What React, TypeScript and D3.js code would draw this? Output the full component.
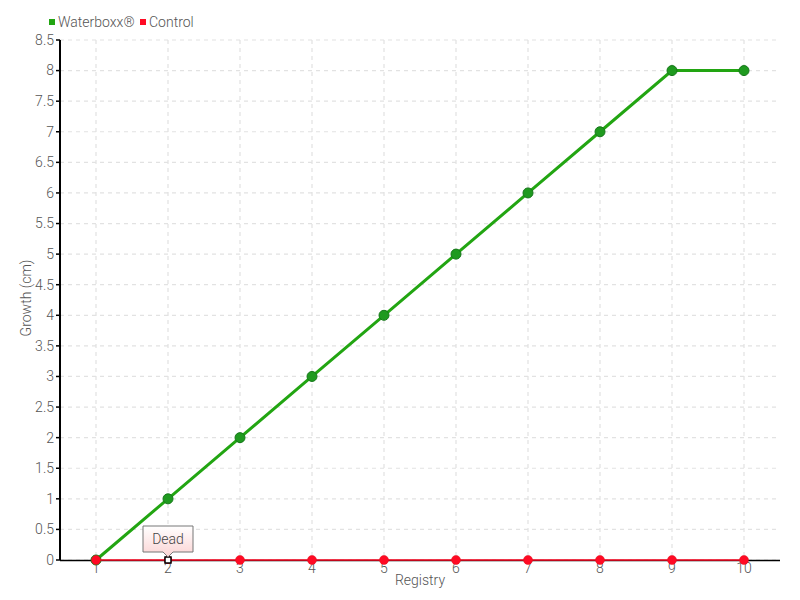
import React from "react";
import * as d3 from "d3";

const categories = ["1", "2", "3", "4", "5", "6", "7", "8", "9", "10"];
const waterboxx = [0, 1, 2, 3, 4, 5, 6, 7, 8, 8];
const control = [0, 0, 0, 0, 0, 0, 0, 0, 0, 0];
const yTicks = [0, 0.5, 1, 1.5, 2, 2.5, 3, 3.5, 4, 4.5, 5, 5.5, 6, 6.5, 7, 7.5, 8, 8.5];
const seriesNames = ["Waterboxx®", "Control"];
const tooltipIndex = 1;
const tooltipText = "Dead";

const W = 800, H = 600;
const L = 60, R = 780, T = 40, B = 560;
const FONT = "Roboto, 'DejaVu Sans Condensed', sans-serif";
const TXT = "#555";
const GREEN = "#22a512";
const RED = "#ff0a24";

export default function App() {
  const x = d3.scaleLinear().domain([0.5, categories.length + 0.5]).range([L, R]);
  const y = d3.scaleLinear().domain([0, 8.5]).range([B, T]);
  const xi = (i: number) => x(i + 1);
  const line = d3.line<number>().x((_, i) => xi(i)).y((d) => y(d));
  const tx = xi(tooltipIndex);
  const ty = y(control[tooltipIndex]);
  return (
    <div style={{ position: "absolute", left: 0, top: 0 }}>
      <svg width={W} height={H} style={{ display: "block", background: "#fff" }} fontFamily={FONT}>
        <defs>
          <linearGradient id="tipg" x1="0" y1="0" x2="0" y2="1">
            <stop offset="0" stopColor="#ffffff" />
            <stop offset="1" stopColor="#fbd3d3" />
          </linearGradient>
        </defs>
        {/* grid */}
        {yTicks.map((t) => (
          <line key={"hg" + t} x1={L} x2={R} y1={y(t)} y2={y(t)} stroke="#e2e2e2" strokeWidth={1.2} strokeDasharray="4,4" />
        ))}
        {categories.map((c, i) => (
          <line key={"vg" + c} x1={xi(i)} x2={xi(i)} y1={T} y2={B} stroke="#e2e2e2" strokeWidth={1.2} strokeDasharray="4,4" />
        ))}
        {/* axes */}
        <line x1={L} x2={R} y1={B + 0.5} y2={B + 0.5} stroke="#000" strokeWidth={1.5} />
        <line x1={L} x2={L} y1={T} y2={B} stroke="#000" strokeWidth={2} />
        {yTicks.map((t) => (
          <g key={"yt" + t}>
            <line x1={L - 4} x2={L} y1={y(t)} y2={y(t)} stroke="#000" strokeWidth={1.5} />
            <text x={L - 6} y={y(t)} dy="0.35em" textAnchor="end" fontSize={14} fill={TXT} fontWeight={300}>
              {t}
            </text>
          </g>
        ))}
        {categories.map((c, i) => (
          <text key={"xt" + c} x={xi(i)} y={B + 13} textAnchor="middle" fontSize={14} fill={TXT} fontWeight={300}>
            {c}
          </text>
        ))}
        <text x={(L + R) / 2} y={585} textAnchor="middle" fontSize={14} fill={TXT} fontWeight={300}>
          Registry
        </text>
        <text
          transform={`translate(36,${(T + B) / 2 - 2}) rotate(-90)`}
          textAnchor="middle"
          fontSize={14}
          fill={TXT}
          fontWeight={300}
          dy="-0.35em"
        >
          Growth (cm)
        </text>
        {/* series */}
        <path d={line(waterboxx) || ""} fill="none" stroke={GREEN} strokeWidth={3} />
        {waterboxx.map((v, i) => (
          <circle key={"gm" + i} cx={xi(i)} cy={y(v)} r={5} fill="#1f9a1f" stroke="#16781a" strokeWidth={1} />
        ))}
        <path d={line(control) || ""} fill="none" stroke={RED} strokeWidth={1.5} />
        {control.map((v, i) =>
          i === tooltipIndex ? null : (
            <circle key={"rm" + i} cx={xi(i)} cy={y(v)} r={4.5} fill={RED} stroke="#e0101f" strokeWidth={0.5} />
          )
        )}
        {/* hover marker & tooltip */}
        <circle cx={tx} cy={ty} r={4} fill={RED} />
        <rect x={tx - 3} y={ty - 3} width={6} height={6} fill="#fff" stroke="#000" strokeWidth={1.5} />
        <path
          d={`M${tx - 25},${ty - 34} H${tx + 25} V${ty - 8} H${tx + 5} L${tx},${ty - 3} L${tx - 5},${ty - 8} H${tx - 25} Z`}
          fill="url(#tipg)"
          stroke="#777"
          strokeWidth={1}
        />
        <text x={tx} y={ty - 16} textAnchor="middle" fontSize={14} fill="#444" fontWeight={300}>
          {tooltipText}
        </text>
        {/* legend */}
        <rect x={49} y={19} width={6} height={6} fill={GREEN} />
        <text x={58} y={27} fontSize={14} fill={TXT} fontWeight={300}>
          {seriesNames[0]}
        </text>
        <rect x={140} y={19} width={6} height={6} fill={RED} />
        <text x={149} y={27} fontSize={14} fill={TXT} fontWeight={300}>
          {seriesNames[1]}
        </text>
      </svg>
    </div>
  );
}
